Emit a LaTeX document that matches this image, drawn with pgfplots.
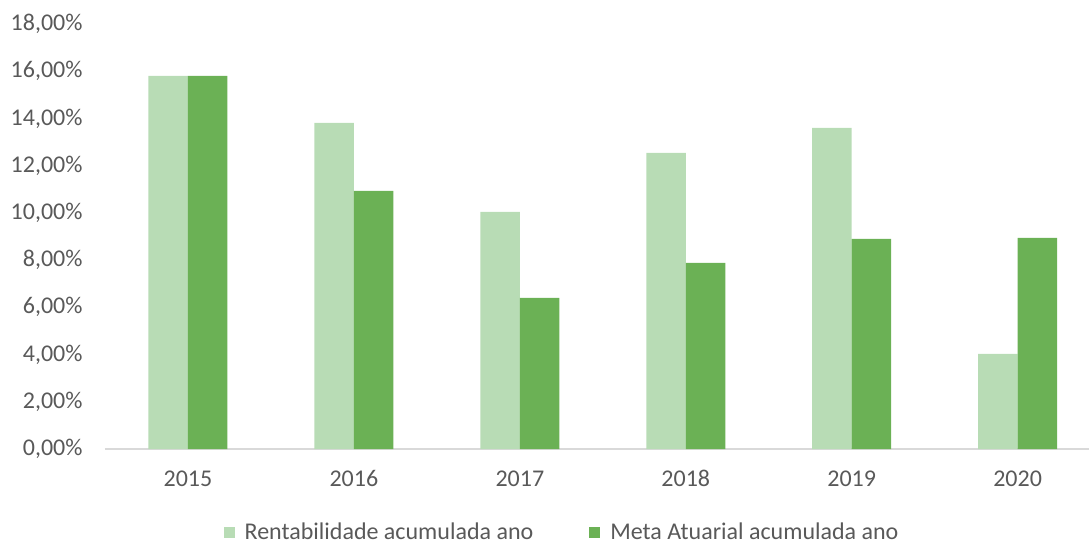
\documentclass[border=0pt]{standalone}
\usepackage{pgfplots}
\pgfplotsset{compat=1.18}
\usepackage{fontspec}
\setmainfont{Carlito}
\definecolor{lightg}{HTML}{B8DCB5}
\definecolor{darkg}{HTML}{6BB155}
\definecolor{txt}{HTML}{595959}
\definecolor{axl}{HTML}{D9D9D9}

\begin{document}
\begin{tikzpicture}
\begin{axis}[
  scale only axis,
  width=492pt, height=212.5pt,
  ybar=0pt, bar width=19.75pt,
  xmin=-0.5, xmax=5.43,
  ymin=0, ymax=18,
  ytick={0,2,...,18},
  xtick=data,
  xticklabels={2015,2016,2017,2018,2019,2020},
  /pgf/number format/assume math mode=true,
  yticklabel={\pgfmathprintnumber[fixed,fixed zerofill,precision=2,use comma]{\tick}\%},
  axis x line*=bottom, axis y line*=left,
  y axis line style={draw=none},
  x axis line style={draw=axl, line width=0.75pt},
  major tick length=0pt,
  tick label style={font=\fontsize{12}{14}\selectfont, text=txt},
  yticklabel style={xshift=-7.7pt},
  xticklabel style={yshift=-7.5pt, text height=1.6ex, text depth=0pt},
  legend style={at={(0.4655,-0.1976)}, anchor=center, draw=none, fill=none,
    legend columns=2, font=\fontsize{12}{14}\selectfont, text=txt,
    /tikz/every odd column/.append style={column sep=3pt},
    /tikz/every even column/.append style={column sep=26pt}},
  legend image code/.code={\fill[#1] (0pt,-2.75pt) rectangle (5.5pt,2.75pt);},
]
\coordinate (O) at (rel axis cs:0,0);
\addplot[fill=lightg, draw=none] coordinates {(0,15.80) (1,13.81) (2,10.04) (3,12.54) (4,13.60) (5,4.03)};
\addlegendentry{Rentabilidade acumulada ano}
\addplot[fill=darkg, draw=none] coordinates {(0,15.80) (1,10.93) (2,6.40) (3,7.88) (4,8.90) (5,8.94)};
\addlegendentry{Meta Atuarial acumulada ano}
\end{axis}
\pgfresetboundingbox
\path[use as bounding box] ([xshift=-52.5pt,yshift=-47pt]O) rectangle ([xshift=492pt,yshift=224.5pt]O);
\end{tikzpicture}
\end{document}
